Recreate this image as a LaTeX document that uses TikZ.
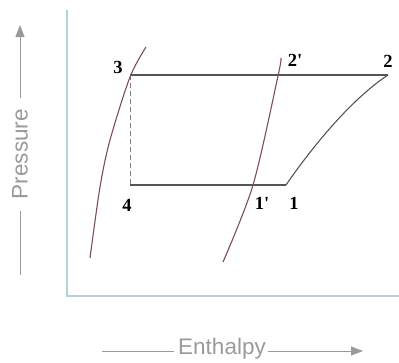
\documentclass[tikz,border=0pt]{standalone}
\usepackage{fontspec}
\setmainfont{Liberation Serif}
\setsansfont{Liberation Sans}
\usetikzlibrary{arrows.meta}
\definecolor{axisblue}{HTML}{B4D2DE}
\definecolor{satcol}{HTML}{7E4A66}
\definecolor{cyclecol}{HTML}{555555}
\definecolor{labelgray}{HTML}{9A9A9A}
\tikzset{
  axisline/.style={draw=axisblue, line width=1.4pt},
  cycleline/.style={draw=cyclecol, line width=1.1pt},
  satline/.style={draw=satcol, line width=1.1pt},
  ptlabel/.style={font=\fontsize{18.5}{20}\selectfont\bfseries, inner sep=0pt, text=black},
  axislabel/.style={font=\sffamily\fontsize{22.5}{26}\selectfont, text=labelgray, inner sep=0pt},
  axisarrow/.style={draw=labelgray, line width=1pt},
}
\begin{document}
\begin{tikzpicture}[x=1pt,y=-1pt]
\useasboundingbox (0,0) rectangle (399,362);
% axes
\coordinate (ytop) at (67,10);
\coordinate (origin) at (67,296);
\coordinate (xend) at (399,296);
\draw[axisline] (ytop) -- (origin) -- (xend);
% cycle points
\coordinate (p3) at (130,75);
\coordinate (p2) at (388,75);
\coordinate (p4) at (130,185);
\coordinate (p1) at (286,185);
\draw[cycleline] (p3) -- (p2);
\draw[cycleline] (p4) -- (p1);
\draw[cycleline] (p1) .. controls (310,150) and (350,100) .. (p2);
\draw[cycleline, draw=gray, dashed, dash pattern=on 5pt off 3pt, line width=0.9pt] (p3) -- (p4);
% saturation / isentropic curves
\draw[satline] plot[smooth] coordinates {(90,258) (100,187) (110,140) (130,77) (146,47)};
\draw[satline] plot[smooth] coordinates {(223,262) (253,185) (278,76) (281,58)};
% point labels
\node[ptlabel] (l3) at (118,67) {3};
\node[ptlabel] (l4) at (127,205) {4};
\node[ptlabel] (l2p) at (295,60) {2\textquotesingle};
\node[ptlabel] (l2) at (388,61) {2};
\node[ptlabel] (l1p) at (262,203) {1\textquotesingle};
\node[ptlabel] (l1) at (294,203) {1};
% axis labels
\node[axislabel, rotate=90] (pres) at (20,154) {Pressure};
\coordinate (pa1) at (20,98);
\coordinate (pa2) at (20,25);
\coordinate (pb1) at (20,211);
\coordinate (pb2) at (20,275);
\draw[axisarrow, -{Triangle[length=12pt,width=9pt]}] (pa1) -- (pa2);
\draw[axisarrow] (pb1) -- (pb2);
\node[axislabel] (enth) at (222,349) {Enthalpy};
\coordinate (ea1) at (102,351);
\coordinate (ea2) at (174,351);
\coordinate (eb1) at (268,351);
\coordinate (eb2) at (363,351);
\draw[axisarrow] (ea1) -- (ea2);
\draw[axisarrow, -{Triangle[length=12pt,width=9pt]}] (eb1) -- (eb2);
\end{tikzpicture}
\end{document}
